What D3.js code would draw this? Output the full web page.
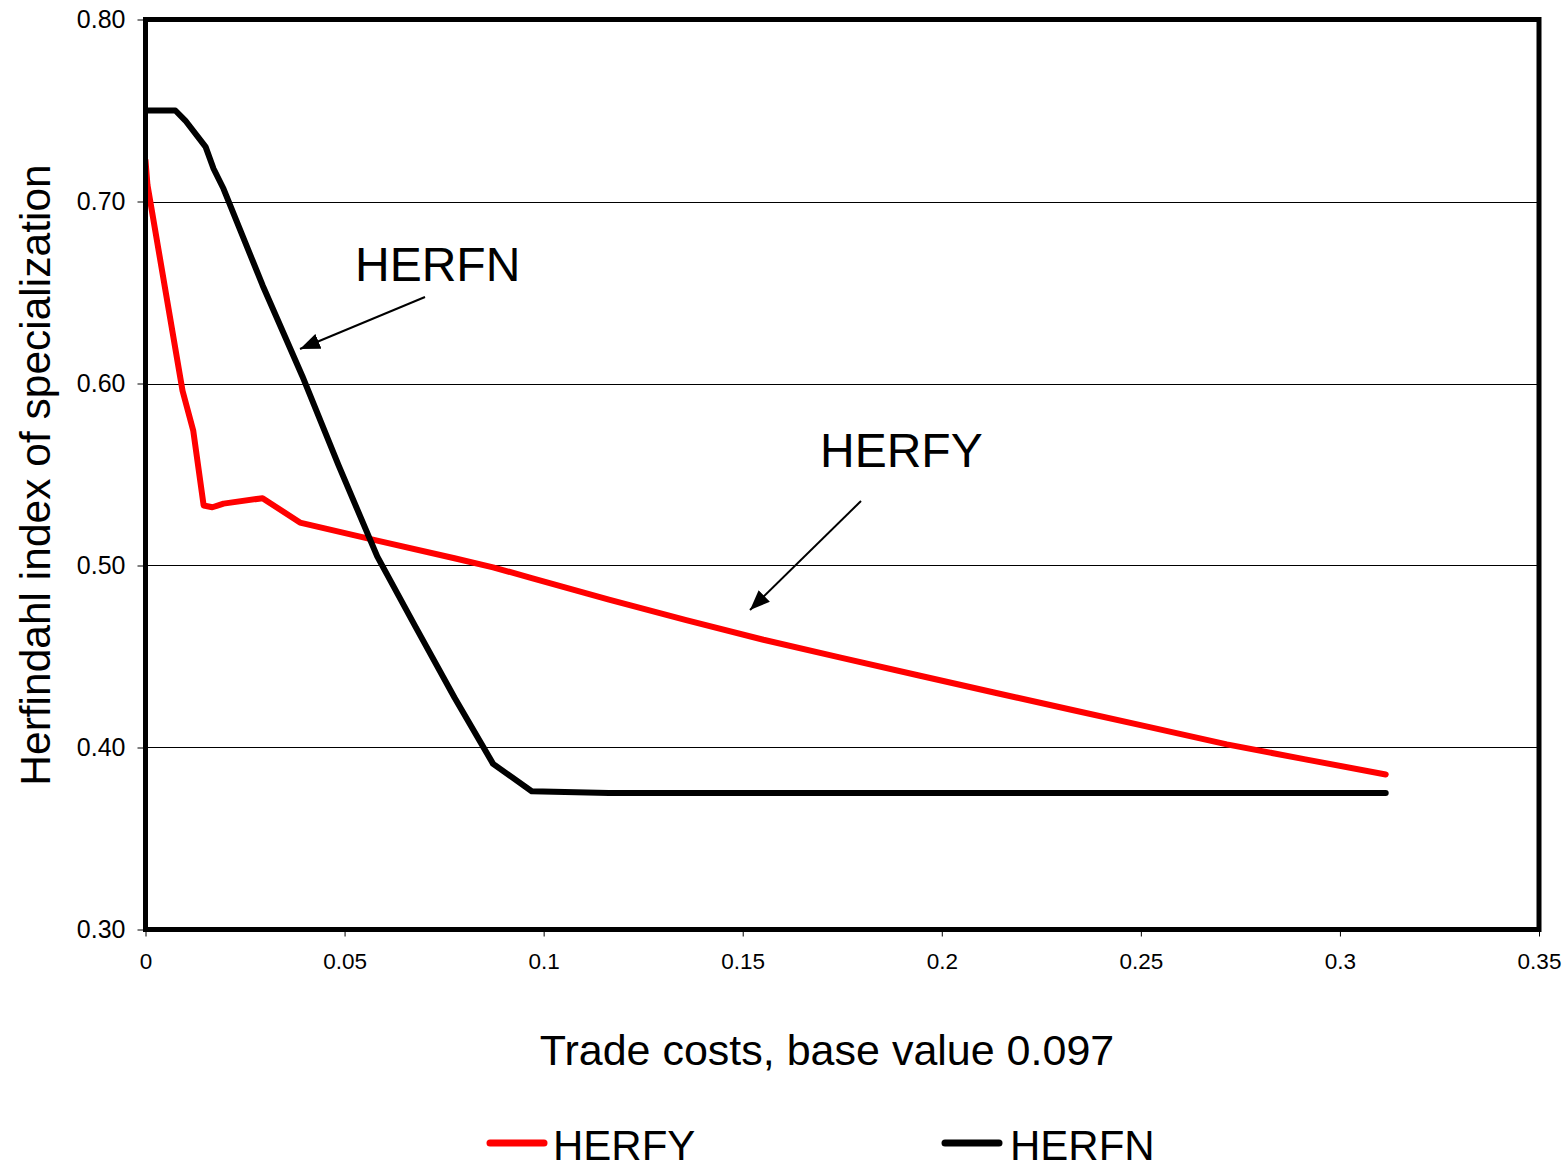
<!DOCTYPE html>
<html>
<head>
<meta charset="utf-8">
<script src="https://cdn.jsdelivr.net/npm/d3@7"></script>
<style>
  html, body { margin: 0; padding: 0; background: #fff; }
  svg { display: block; font-family: "Liberation Sans", Arial, sans-serif; }
</style>
</head>
<body>
<svg id="chart" width="1568" height="1165"></svg>
<script>
// ---- data ----
const herfnX = [0, 0.0075, 0.0100, 0.0151, 0.0171, 0.0196, 0.0294, 0.0394, 0.0485, 0.0582, 0.0679, 0.0776, 0.0873, 0.0970, 0.1164, 0.3115];
const herfnY = [0.750, 0.750, 0.7445, 0.730, 0.718, 0.707, 0.654, 0.604, 0.555, 0.505, 0.466, 0.4275, 0.391, 0.376, 0.375, 0.375];

const herfyX = [0, 0.0005, 0.0093, 0.0120, 0.0146, 0.0168, 0.0196, 0.0294, 0.0388, 0.0582, 0.0776, 0.0873, 0.0970, 0.1164, 0.1358, 0.1552, 0.1746, 0.1940, 0.2134, 0.2328, 0.2522, 0.2716, 0.2910, 0.3115];
const herfyY = [0.7225, 0.709, 0.596, 0.574, 0.533, 0.532, 0.534, 0.537, 0.5236, 0.5137, 0.504, 0.499, 0.4931, 0.4813, 0.470, 0.4592, 0.4494, 0.4397, 0.4301, 0.4206, 0.4112, 0.4017, 0.3936, 0.3852];

const xTicks = [0, 0.05, 0.1, 0.15, 0.2, 0.25, 0.3, 0.35];
const xTickLabels = ["0", "0.05", "0.1", "0.15", "0.2", "0.25", "0.3", "0.35"];
const yTicks = [0.3, 0.4, 0.5, 0.6, 0.7, 0.8];
const yTickLabels = ["0.30", "0.40", "0.50", "0.60", "0.70", "0.80"];
const seriesNames = ["HERFY", "HERFN"];
const seriesColors = ["#ff0000", "#000000"];
const xTitle = "Trade costs, base value 0.097";
const yTitle = "Herfindahl index of specialization";

// ---- layout ----
const svg = d3.select("#chart");
const L = 145.5, R = 1539, T = 19.5, B = 929.5;

const x = d3.scaleLinear().domain([0, 0.35]).range([L, R]);
const y = d3.scaleLinear().domain([0.3, 0.8]).range([B, T]);

// gridlines
svg.append("g").selectAll("line")
  .data(yTicks.filter(v => v > 0.3 && v < 0.8))
  .join("line")
  .attr("x1", L).attr("x2", R)
  .attr("y1", d => Math.round(y(d)) + 0.5).attr("y2", d => Math.round(y(d)) + 0.5)
  .attr("stroke", "#000").attr("stroke-width", 1);

// axes
const yAxis = d3.axisLeft(y).tickValues(yTicks)
  .tickFormat((d, i) => yTickLabels[i]).tickSize(8).tickPadding(12);
const gy = svg.append("g").attr("transform", `translate(${L},0)`).call(yAxis);
gy.select(".domain").remove();
gy.selectAll(".tick line").attr("stroke", "#000").attr("stroke-width", 1);
gy.selectAll(".tick text").attr("font-size", 25).attr("fill", "#000")
  .attr("font-family", "'Liberation Sans', Arial, sans-serif");

const xAxis = d3.axisBottom(x).tickValues(xTicks)
  .tickFormat((d, i) => xTickLabels[i]).tickSize(7).tickPadding(17);
const gx = svg.append("g").attr("transform", `translate(0,${B})`).call(xAxis);
gx.select(".domain").remove();
gx.selectAll(".tick line").attr("stroke", "#000").attr("stroke-width", 1);
gx.selectAll(".tick text").attr("font-size", 22.5).attr("fill", "#000")
  .attr("font-family", "'Liberation Sans', Arial, sans-serif");

// series lines
const line = d3.line().x(d => x(d[0])).y(d => y(d[1]));
const series = [
  { name: seriesNames[0], color: seriesColors[0], pts: herfyX.map((v, i) => [v, herfyY[i]]) },
  { name: seriesNames[1], color: seriesColors[1], pts: herfnX.map((v, i) => [v, herfnY[i]]) }
];
svg.append("clipPath").attr("id", "plotclip")
  .append("rect").attr("x", L).attr("y", T).attr("width", R - L).attr("height", B - T);
svg.append("g").attr("clip-path", "url(#plotclip)")
  .selectAll("path").data(series).join("path")
  .attr("d", d => line(d.pts))
  .attr("fill", "none")
  .attr("stroke", d => d.color)
  .attr("stroke-width", 6)
  .attr("stroke-linejoin", "round")
  .attr("stroke-linecap", "round");

// frame
svg.append("rect").attr("x", L).attr("y", T).attr("width", R - L).attr("height", B - T)
  .attr("fill", "none").attr("stroke", "#000").attr("stroke-width", 5);

// annotations with arrows
svg.append("defs").append("marker")
  .attr("id", "arrowhead").attr("viewBox", "0 0 20 16")
  .attr("refX", 20).attr("refY", 8)
  .attr("markerWidth", 20).attr("markerHeight", 16)
  .attr("markerUnits", "userSpaceOnUse")
  .attr("orient", "auto")
  .append("path").attr("d", "M0,0 L20,8 L0,16 Z").attr("fill", "#000");

const annotations = [
  { text: "HERFN", tx: 355, ty: 281, x1: 425, y1: 297, x2: 300, y2: 349 },
  { text: "HERFY", tx: 820, ty: 467, x1: 861, y1: 501, x2: 750, y2: 610 }
];
annotations.forEach(a => {
  svg.append("text").attr("x", a.tx).attr("y", a.ty)
    .attr("font-size", 48).attr("fill", "#000").text(a.text);
  svg.append("line").attr("x1", a.x1).attr("y1", a.y1).attr("x2", a.x2).attr("y2", a.y2)
    .attr("stroke", "#000").attr("stroke-width", 2).attr("marker-end", "url(#arrowhead)");
});

// axis titles
svg.append("text").attr("x", 827).attr("y", 1065).attr("text-anchor", "middle")
  .attr("font-size", 43).attr("fill", "#000").text(xTitle);
svg.append("text").attr("transform", "translate(50,475) rotate(-90)")
  .attr("text-anchor", "middle").attr("font-size", 42.5).attr("fill", "#000").text(yTitle);

// legend
const legendPos = [{ lx: 490, tx: 553 }, { lx: 945, tx: 1010 }];
const lg = svg.append("g").selectAll("g").data(series).join("g");
lg.append("line")
  .attr("x1", (d, i) => legendPos[i].lx).attr("x2", (d, i) => legendPos[i].lx + 54)
  .attr("y1", 1143).attr("y2", 1143)
  .attr("stroke", d => d.color).attr("stroke-width", 7).attr("stroke-linecap", "round");
lg.append("text")
  .attr("x", (d, i) => legendPos[i].tx).attr("y", 1160)
  .attr("font-size", 42).attr("fill", "#000").text(d => d.name);
</script>
</body>
</html>
